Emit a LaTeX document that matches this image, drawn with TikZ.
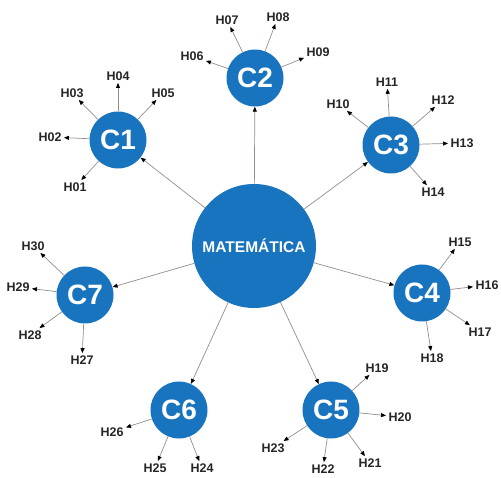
\documentclass[tikz,border=0pt]{standalone}
\usepackage{fontspec}
\setmainfont{Liberation Sans}
\usetikzlibrary{arrows.meta}
\definecolor{mapblue}{RGB}{24,116,190}
\definecolor{linegray}{RGB}{150,140,135}
\tikzset{
  hub/.style={circle, fill=mapblue, text=white, minimum size=62pt, inner sep=0pt, font=\bfseries\fontsize{15.5}{16}\selectfont},
  area/.style={circle, fill=mapblue, text=white, minimum size=57pt, inner sep=0pt, font=\bfseries\fontsize{28}{28}\selectfont},
  skill/.style={inner sep=1.5pt, outer sep=1pt, text=black!85, font=\bfseries\fontsize{12.5}{13}\selectfont},
  link/.style={draw=linegray, line width=0.7pt, -{Triangle[length=5pt,width=4pt,fill=black,color=black]}}
}
\begin{document}
\begin{tikzpicture}[x=1pt, y=-1pt]
            \useasboundingbox (0,0) rectangle (501,478);

            % Central node
            \node[hub, minimum size=124pt] (Mat) at (254,246) {MATEMÁTICA};

            % Competences around it
            \node[area] (C1) at (118,140) {C1};
            \node[area] (C2) at (255,78) {C2};
            \node[area] (C3) at (391,145) {C3};
            \node[area] (C4) at (422,293) {C4};
            \node[area] (C5) at (331,410) {C5};
            \node[area] (C6) at (179,410) {C6};
            \node[area] (C7) at (85,295) {C7};

            % Skills of C1
            \node[skill] (H01) at (75,187) {H01};
            \node[skill] (H02) at (50,137) {H02};
            \node[skill] (H03) at (72,93) {H03};
            \node[skill] (H04) at (118,76) {H04};
            \node[skill] (H05) at (163,93) {H05};

            % Skills of C2
            \node[skill] (H06) at (192,56) {H06};
            \node[skill] (H07) at (227,20) {H07};
            \node[skill] (H08) at (278,17) {H08};
            \node[skill] (H09) at (318,52) {H09};

            % Skills of C3
            \node[skill] (H10) at (338,104) {H10};
            \node[skill] (H11) at (387,82) {H11};
            \node[skill] (H12) at (443,100) {H12};
            \node[skill] (H13) at (462,143) {H13};
            \node[skill] (H14) at (433,192) {H14};

            % Skills of C4
            \node[skill] (H15) at (460,242) {H15};
            \node[skill] (H16) at (487,285) {H16};
            \node[skill] (H17) at (480,332) {H17};
            \node[skill] (H18) at (432,358) {H18};

            % Skills of C5
            \node[skill] (H19) at (377,368) {H19};
            \node[skill] (H20) at (400,417) {H20};
            \node[skill] (H21) at (370,463) {H21};
            \node[skill] (H22) at (323,469) {H22};
            \node[skill] (H23) at (273,448) {H23};

            % Skills of C6
            \node[skill] (H24) at (202,468) {H24};
            \node[skill] (H25) at (155,468) {H25};
            \node[skill] (H26) at (112,432) {H26};

            % Skills of C7
            \node[skill] (H27) at (82,360) {H27};
            \node[skill] (H28) at (30,335) {H28};
            \node[skill] (H29) at (18,287) {H29};
            \node[skill] (H30) at (33,246) {H30};

            % Arrows from the centre
            \draw[link] (Mat) -- (C1);
            \draw[link] (Mat) -- (C2);
            \draw[link] (Mat) -- (C3);
            \draw[link] (Mat) -- (C4);
            \draw[link] (Mat) -- (C5);
            \draw[link] (Mat) -- (C6);
            \draw[link] (Mat) -- (C7);

            % Arrows to the skills
            \draw[link] (C1) -- (H01);
            \draw[link] (C1) -- (H02);
            \draw[link] (C1) -- (H03);
            \draw[link] (C1) -- (H04);
            \draw[link] (C1) -- (H05);
            \draw[link] (C2) -- (H06);
            \draw[link] (C2) -- (H07);
            \draw[link] (C2) -- (H08);
            \draw[link] (C2) -- (H09);
            \draw[link] (C3) -- (H10);
            \draw[link] (C3) -- (H11);
            \draw[link] (C3) -- (H12);
            \draw[link] (C3) -- (H13);
            \draw[link] (C3) -- (H14);
            \draw[link] (C4) -- (H15);
            \draw[link] (C4) -- (H16);
            \draw[link] (C4) -- (H17);
            \draw[link] (C4) -- (H18);
            \draw[link] (C5) -- (H19);
            \draw[link] (C5) -- (H20);
            \draw[link] (C5) -- (H21);
            \draw[link] (C5) -- (H22);
            \draw[link] (C5) -- (H23);
            \draw[link] (C6) -- (H24);
            \draw[link] (C6) -- (H25);
            \draw[link] (C6) -- (H26);
            \draw[link] (C7) -- (H27);
            \draw[link] (C7) -- (H28);
            \draw[link] (C7) -- (H29);
            \draw[link] (C7) -- (H30);
        \end{tikzpicture}
\end{document}
